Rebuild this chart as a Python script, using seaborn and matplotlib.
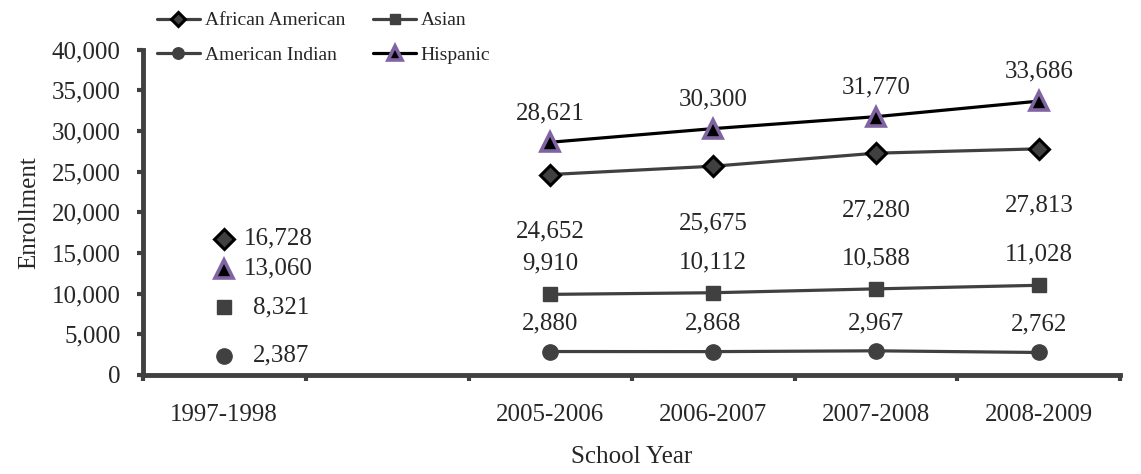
import numpy as np
import pandas as pd
import seaborn as sns
import matplotlib
matplotlib.use('Agg')
from matplotlib import pyplot as plt
from matplotlib.ticker import FuncFormatter

# categories on the x axis (one empty slot between 1997 and 2005)
years = ['1997-1998', '', '2005-2006', '2006-2007', '2007-2008', '2008-2009']
recent_years = ['2005-2006', '2006-2007', '2007-2008', '2008-2009']

# enrollment by group
african_american = [24652, 25675, 27280, 27813]
asian = [9910, 10112, 10588, 11028]
american_indian = [2880, 2868, 2967, 2762]
hispanic = [28621, 30300, 31770, 33686]

# 1997-1998 values (shown as loose points)
base_1997 = {'African American': 16728, 'Hispanic': 13060,
             'Asian': 8321, 'American Indian': 2387}

sns.set_style('white')
plt.rcParams['font.family'] = ['Liberation Serif', 'DejaVu Serif']

dark = '#404040'
purple = '#8064A2'
fs = 18

styles = {
    'African American': dict(color=dark, marker='D', markersize=10, mfc=dark, mec='black', mew=2.2),
    'Asian': dict(color=dark, marker='s', markersize=10.5, mfc=dark, mec=dark, mew=1),
    'American Indian': dict(color=dark, marker='o', markersize=11, mfc=dark, mec=dark, mew=1),
    'Hispanic': dict(color='black', marker='^', markersize=13, mfc='black', mec=purple, mew=2.6),
}
series = {'African American': african_american, 'Asian': asian,
          'American Indian': american_indian, 'Hispanic': hispanic}
# label offsets (points) for the connected series
offsets = {'African American': -41, 'Asian': 22, 'American Indian': 20, 'Hispanic': 21}

pos = {y: i for i, y in enumerate(years)}

fig = plt.figure(figsize=(11.41, 4.74), dpi=100)
ax = fig.add_axes([0.125, 0.209, 0.982 - 0.125, 0.895 - 0.209])

handles = {}
for name, vals in series.items():
    df = pd.DataFrame({'x': [pos[y] for y in recent_years], 'y': vals})
    st = styles[name]
    sns.lineplot(data=df, x='x', y='y', ax=ax, color=st['color'], lw=2.3,
                 marker=st['marker'], markersize=st['markersize'],
                 markerfacecolor=st['mfc'], markeredgecolor=st['mec'],
                 markeredgewidth=st['mew'], label=name, legend=False)
    handles[name] = ax.lines[-1]
    for x, v in zip(df['x'], vals):
        ax.annotate(f'{v:,}', (x, v), xytext=(0, offsets[name]), textcoords='offset points',
                    ha='center', va='center', fontsize=fs)

# 1997-1998 points
label_dx = {'African American': 14, 'Hispanic': 14, 'Asian': 21, 'American Indian': 21}
for name, v in base_1997.items():
    st = styles[name]
    ax.plot([pos['1997-1998']], [v], linestyle='none', marker=st['marker'],
            markersize=st['markersize'], markerfacecolor=st['mfc'],
            markeredgecolor=st['mec'], markeredgewidth=st['mew'])
    ax.annotate(f'{v:,}', (pos['1997-1998'], v), xytext=(label_dx[name], 0),
                textcoords='offset points', ha='left', va='center', fontsize=fs)

ax.set_xlim(-0.5, len(years) - 0.5)
ax.set_ylim(0, 40000)
ax.set_yticks(np.arange(0, 40001, 5000))
ax.yaxis.set_major_formatter(FuncFormatter(lambda v, p: f'{int(v):,}'))
ax.set_xticks(np.arange(-0.5, len(years), 1.0))
ax.set_xticklabels([])
ax.set_xticks(range(len(years)), minor=True)
ax.set_xticklabels(years, minor=True)
ax.tick_params(axis='x', which='minor', length=0, pad=21, labelsize=fs)
ax.tick_params(axis='x', which='major', bottom=True, length=4, width=3, color=dark, direction='out')
ax.tick_params(axis='y', left=True, length=4, width=3, color=dark, direction='out',
               labelsize=fs, pad=12)

for s in ['top', 'right']:
    ax.spines[s].set_visible(False)
for s in ['left', 'bottom']:
    ax.spines[s].set_color(dark)
    ax.spines[s].set_linewidth(3.5)

ax.set_xlabel('School Year', fontsize=fs, labelpad=14)
ax.set_ylabel('Enrollment', fontsize=fs, labelpad=8)

order = ['African American', 'American Indian', 'Asian', 'Hispanic']
ax.legend([handles[n] for n in order], order, ncol=2, frameon=False, fontsize=14,
          loc='upper left', bbox_to_anchor=(157 / 1141, 0.975), bbox_transform=fig.transFigure,
          borderaxespad=0, borderpad=0, handlelength=2.2, markerscale=0.75,
          columnspacing=1.45, handletextpad=0.25, labelspacing=0.85)

fig.savefig('out.png', dpi=100)
